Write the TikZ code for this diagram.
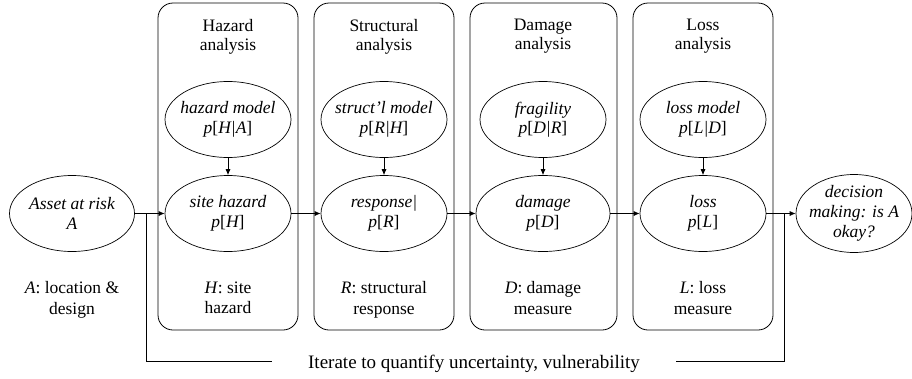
\documentclass[tikz,border=0pt]{standalone}
\usepackage{fontspec}
\setmainfont{Liberation Serif}
\usetikzlibrary{shapes.geometric,arrows.meta}
\newcommand\probx[1]{p{\upshape[}#1{\upshape]}}
\begin{document}
\begin{tikzpicture}[x=1pt,y=-1pt,
  font=\fontsize{17.5}{20}\selectfont,
  stage/.style={draw, rounded corners=15pt, line width=0.8pt, minimum width=140pt, minimum height=327pt, inner sep=0pt},
  oval/.style={draw, ellipse, line width=0.7pt, minimum width=126pt, minimum height=76pt,
    inner xsep=-25pt, inner ysep=-6pt, align=center, font=\fontsize{17.5}{19.5}\selectfont\itshape},
  title/.style={align=center, inner sep=0pt, anchor=north, font=\fontsize{17.5}{19}\selectfont},
  lbl/.style={align=center, inner sep=0pt, anchor=north, font=\fontsize{17.5}{20.5}\selectfont},
  arr/.style={-{Latex[length=6pt,width=5pt]}, line width=0.7pt},
  ln/.style={line width=0.7pt}]
\useasboundingbox (0,0) rectangle (912,378);

% stage boxes
\node[stage] (bH) at (228,166.5) {};
\node[stage] (bR) at (384,166.5) {};
\node[stage, minimum width=147pt] (bD) at (543.5,166.5) {};
\node[stage] (bL) at (703,166.5) {};

% titles
\node[title] (tH) at (228,18.8) {Hazard\\analysis};
\node[title] (tR) at (384,18.8) {Structural\\analysis};
\node[title] (tD) at (543,18.8) {Damage\\analysis};
\node[title] (tL) at (703,18.8) {Loss\\analysis};

% top ellipses
\node[oval] (hm) at (228,119.5) {hazard model\\\probx{H|A}};
\node[oval] (sm) at (384,119.5) {struct'l model\\\probx{R|H}};
\node[oval] (fr) at (543,119.5) {fragility\\\probx{D|R}};
\node[oval] (lm) at (703,119.5) {loss model\\\probx{L|D}};

% bottom ellipses
\node[oval, minimum width=125pt] (as) at (72,213.5) {Asset at risk\\A};
\node[oval] (sh) at (228,213.5) {site hazard\\\probx{H}};
\node[oval] (rs) at (384,213.5) {response|\\\probx{R}};
\node[oval, minimum width=134pt] (dm) at (543,213.5) {damage\\\probx{D}};
\node[oval] (ls) at (703,213.5) {loss\\\probx{L}};
\node[oval, minimum width=116pt, minimum height=78pt, font=\fontsize{17.5}{20}\selectfont\itshape] (dc) at (854,213.5) {decision\\making: is A\\okay?};

% bottom labels
\node[lbl] (lA) at (72,281.5) {\textit{A}: location \&\\design};
\node[lbl] (lH) at (228,281.5) {\textit{H}: site\\hazard};
\node[lbl] (lR) at (384,281.5) {\textit{R}: structural\\response};
\node[lbl] (lD) at (543,281.5) {\textit{D}: damage\\measure};
\node[lbl] (lL) at (703,281.5) {\textit{L}: loss\\measure};

% iterate
\node[inner ysep=0pt, inner xsep=36pt, text height=14.6pt, text depth=2pt,
  font=\fontsize{19}{22}\selectfont] (it) at (474,361.7) {Iterate to quantify uncertainty, vulnerability};

% arrows
\draw[arr] (hm) -- (sh);
\draw[arr] (sm) -- (rs);
\draw[arr] (fr) -- (dm);
\draw[arr] (lm) -- (ls);
\draw[arr] (as) -- (sh);
\draw[arr] (sh) -- (rs);
\draw[arr] (rs) -- (dm);
\draw[arr] (dm) -- (ls);
\draw[arr] (ls) -- (dc);

\coordinate (jL) at (146,213.5);
\coordinate (jR) at (784,213.5);
\draw[ln] (jR) |- (it.east);
\draw[ln] (it.west) -| (jL);
\end{tikzpicture}
\end{document}
